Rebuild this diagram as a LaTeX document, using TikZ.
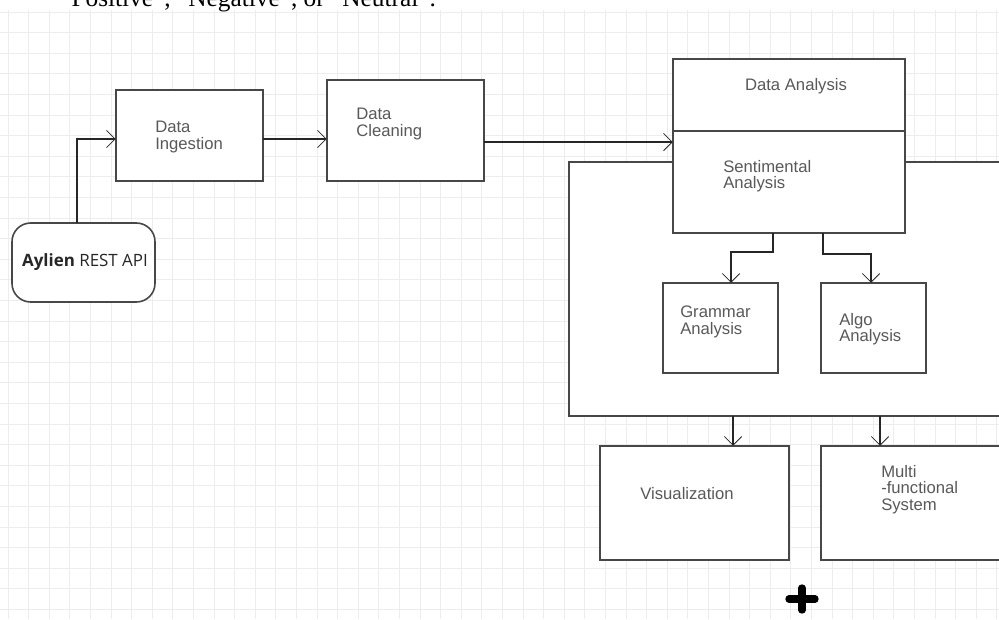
\documentclass[tikz,border=0pt]{standalone}
\usepackage{fontspec}
\setmainfont{Liberation Sans}
\newfontfamily\serifx{Liberation Serif}
\newfontfamily\opensans{Open Sans}
\usetikzlibrary{arrows.meta}
\tikzset{
  px/.style={x=0.75pt,y=-0.75pt},
  gridline/.style={draw=black!7,line width=0.6pt},
  box/.style={draw=black!72,line width=1.2pt,fill=white},
  lbl/.style={text=black!65,font=\fontsize{12.5}{12.3}\selectfont,align=left,inner sep=0pt},
  conn/.style={draw=black!85,line width=1.0pt,-{Straight Barb[length=6.5pt,width=13pt,line width=0.6pt]}},
}
\begin{document}
\begin{tikzpicture}[px]
\useasboundingbox (0,0) rectangle (999,619);
\fill[white] (0,0) rectangle (999,619);
% grid
\begin{scope}
\clip (0,10) rectangle (999,619);
\foreach \i in {0,...,49} { \draw[gridline] ({8+20.6*\i},10) -- ({8+20.6*\i},619); }
\foreach \j in {0,...,30} { \draw[gridline] (0,{12+20.6*\j}) -- (999,{12+20.6*\j}); }
\end{scope}
% clipped text line at top (cut off in the reference as well)
\begin{scope}
\clip (0,0) rectangle (999,20);
\node[anchor=base west,inner sep=0pt,font=\serifx\fontsize{19}{21}\selectfont] (toptext) at (60,6) {“Positive”, “Negative”, or “Neutral”.};
\end{scope}

% outer container
\draw[box] (569,162) rectangle (1003,416);
\coordinate (outerbl) at (569,416);

% boxes
\draw[box] (116,90) rectangle (263,181);
\node (ing) at (189.5,135.5) [minimum width=147*0.75pt,minimum height=91*0.75pt] {};
\node[lbl,anchor=north west] at (155,121) {Data\\Ingestion};

\draw[box] (327,80) rectangle (484,181);
\node (cln) at (405.5,130.5) [minimum width=157*0.75pt,minimum height=101*0.75pt] {};
\node[lbl,anchor=north west] at (356,108) {Data\\Cleaning};

\draw[box,rounded corners=14pt] (12,223) rectangle (155,302);
\node (api) at (83.5,262.5) [minimum width=143*0.75pt,minimum height=79*0.75pt] {};
\node[inner sep=0pt,text=black!85,font=\opensans\fontsize{12.7}{14}\selectfont] at (85,262) {\textbf{Aylien} REST API};

\draw[box] (673,59) rectangle (905,131);
\node (da) at (789,95) [minimum width=232*0.75pt,minimum height=72*0.75pt] {};
\node[lbl] at (796,86) {Data Analysis};

\draw[box] (673,131) rectangle (905,233);
\node (sa) at (789,182) [minimum width=232*0.75pt,minimum height=102*0.75pt] {};
\node[lbl,anchor=north west] at (723,160) {Sentimental\\Analysis};

\draw[box] (663,283) rectangle (778,373);
\node (ga) at (720.5,328) [minimum width=115*0.75pt,minimum height=90*0.75pt] {};
\node[lbl,anchor=north west] at (680,306) {Grammar\\Analysis};

\draw[box] (821,283) rectangle (926,373);
\node (aa) at (873.5,328) [minimum width=105*0.75pt,minimum height=90*0.75pt] {};
\node[lbl,anchor=north west] at (839,313) {Algo\\Analysis};

\draw[box] (600,446) rectangle (789,560);
\node (vis) at (694.5,503) [minimum width=189*0.75pt,minimum height=114*0.75pt] {};
\node[lbl] at (687,494) {Visualization};

\draw[box] (821,446) rectangle (1003,560);
\node (mfs) at (910,503) [minimum width=178*0.75pt,minimum height=114*0.75pt] {};
\node[lbl,anchor=north west] at (881,465) {Multi\\-functional\\System};

% connectors
\draw[conn] (api.north -| 77,0) |- (ing.west |- 0,139);
\draw[conn] (ing.east |- 0,139) -- (cln.west |- 0,139);
\draw[conn] (cln.east |- 0,142) -- (sa.west |- 0,142);
\draw[conn] (sa.south -| 773,0) -- (773,252) -| (ga.north -| 731,0);
\draw[conn] (sa.south -| 823,0) -- (823,254) -| (aa.north -| 871,0);
\draw[conn] (outerbl -| 733,0) -- (vis.north -| 733,0);
\draw[conn] (outerbl -| 880,0) -- (mfs.north -| 880,0);

% plus sign
\coordinate (plus) at (802,599);
\draw[line width=5.5pt,line cap=round] ([xshift=-13*0.75pt]plus) -- ([xshift=13*0.75pt]plus);
\draw[line width=5.5pt,line cap=round] ([yshift=11*0.75pt]plus) -- ([yshift=-11*0.75pt]plus);
\end{tikzpicture}
\end{document}
